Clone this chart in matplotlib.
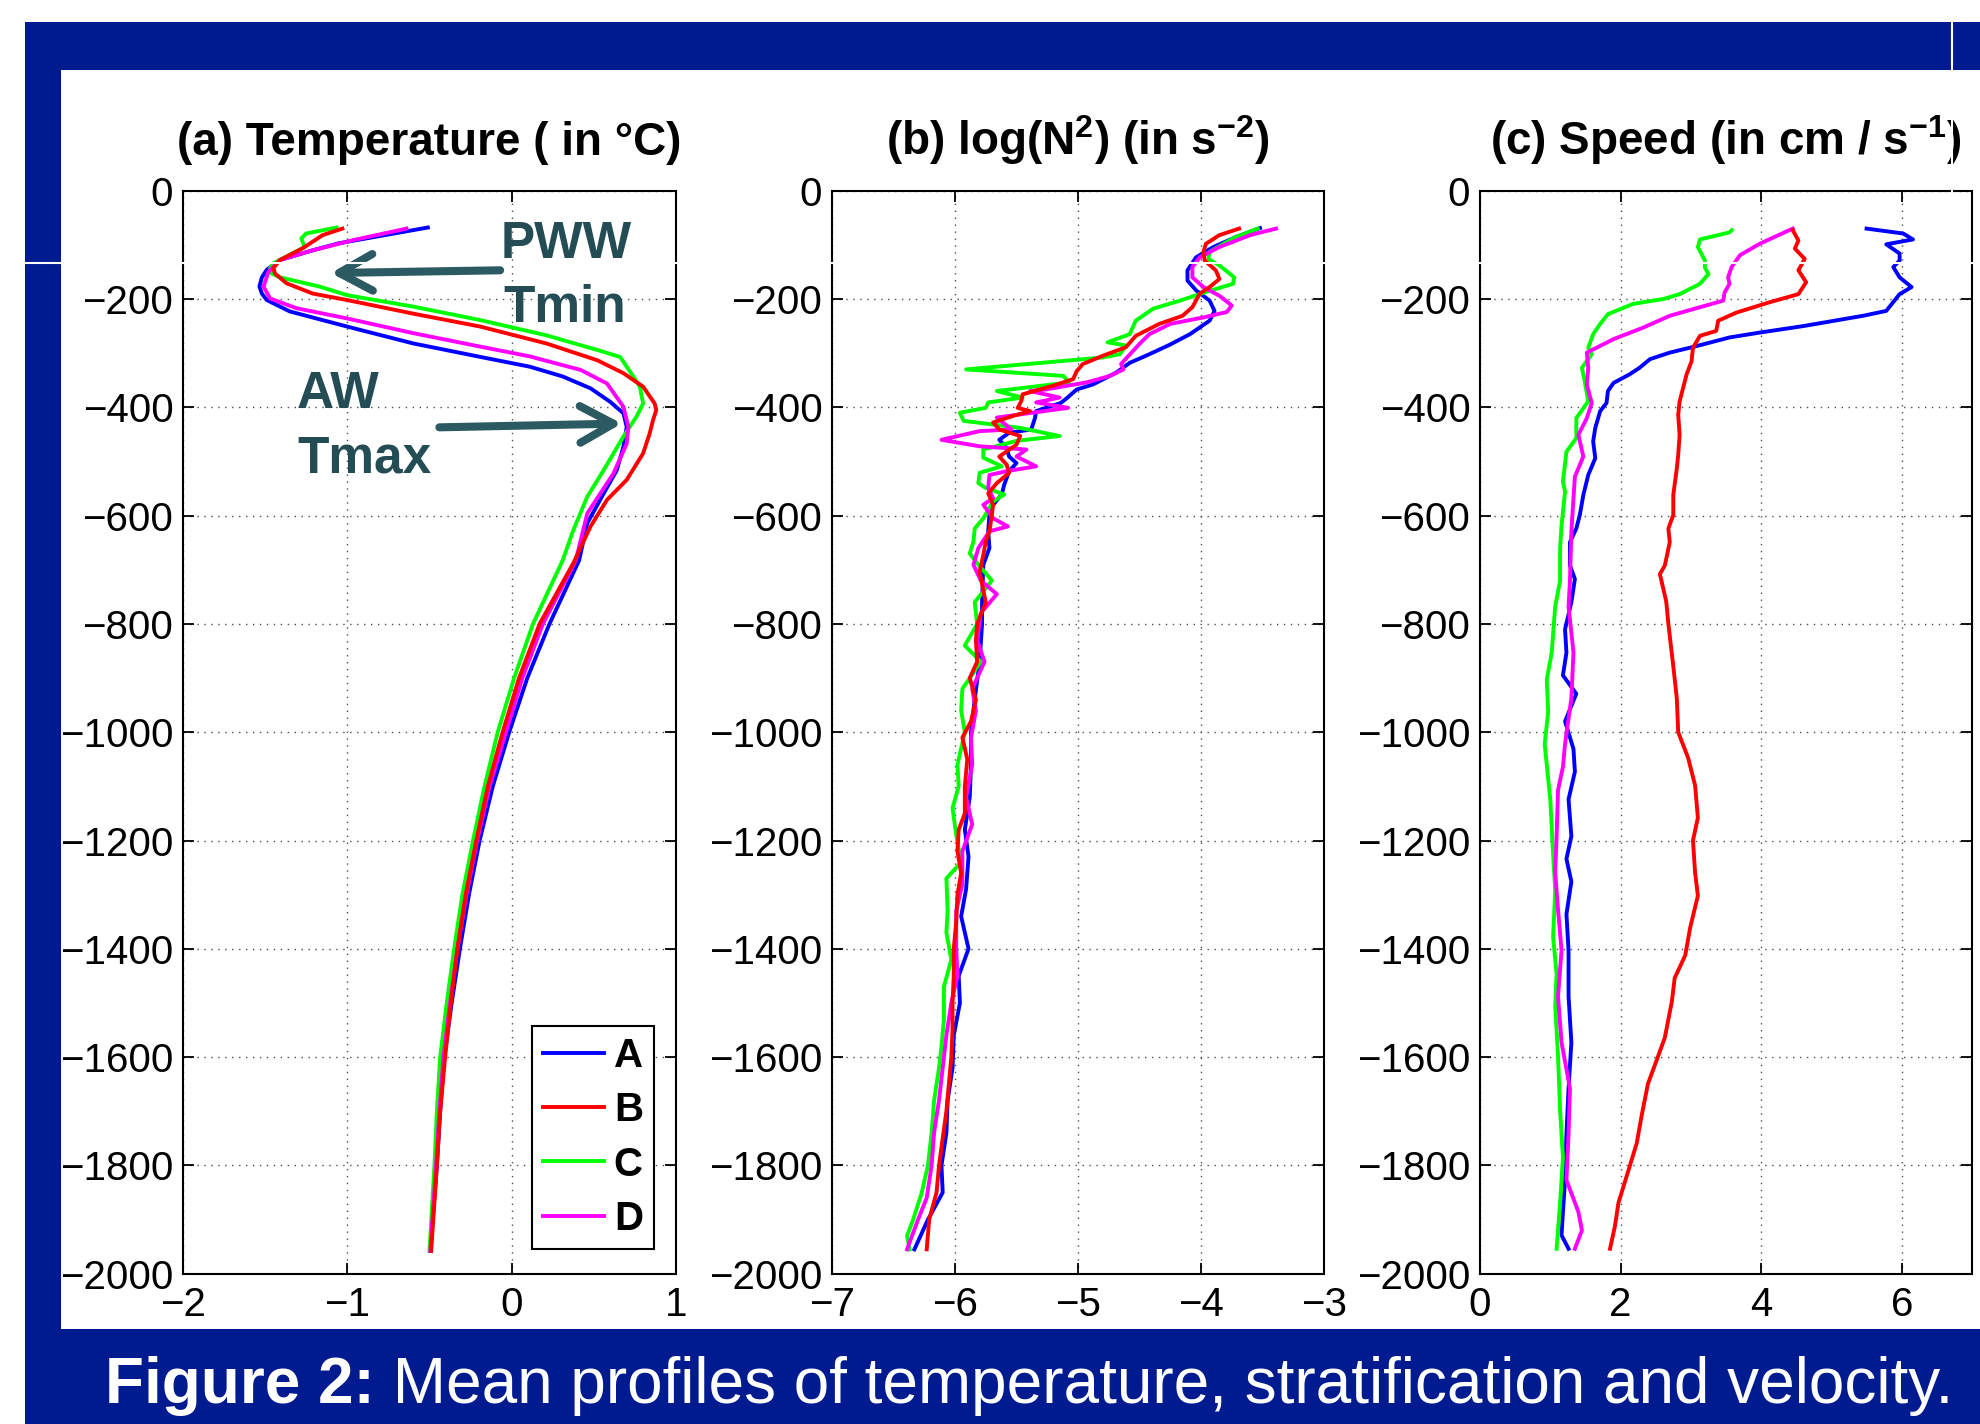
import numpy as np
import matplotlib
matplotlib.use("Agg")
import matplotlib.pyplot as plt
from matplotlib.patches import Rectangle

plt.rcParams['font.family'] = ['Liberation Sans', 'DejaVu Sans']
plt.rcParams['mathtext.fontset'] = 'custom'
plt.rcParams['mathtext.rm'] = 'Liberation Sans:bold'
plt.rcParams['mathtext.bf'] = 'Liberation Sans:bold'
plt.rcParams['mathtext.it'] = 'Liberation Sans:bold:italic'

# ---- data: [depth (m), value] ----
# (a) temperature, degC
temp_A = np.array([[-68, -0.51], [-97, -1.05], [-110, -1.21], [-128, -1.41], [-146, -1.49], [-160, -1.52],
                   [-177, -1.535], [-190, -1.52], [-202, -1.49], [-223, -1.35], [-251, -1.00], [-282, -0.60],
                   [-307, -0.19], [-325, 0.11], [-343, 0.31], [-365, 0.48], [-390, 0.60], [-411, 0.68],
                   [-436, 0.70], [-473, 0.68], [-516, 0.64], [-559, 0.56], [-614, 0.46], [-683, 0.41],
                   [-800, 0.23], [-900, 0.095], [-1000, -0.015], [-1100, -0.115], [-1200, -0.195], [-1300, -0.26],
                   [-1400, -0.315], [-1500, -0.365], [-1600, -0.41], [-1700, -0.435], [-1800, -0.455], [-1958, -0.495]])
temp_B = np.array([[-70, -1.03], [-82, -1.15], [-106, -1.27], [-128, -1.41], [-143, -1.45], [-153, -1.44],
                   [-171, -1.37], [-190, -1.21], [-202, -1.00], [-227, -0.60], [-251, -0.19], [-282, 0.21],
                   [-313, 0.52], [-337, 0.68], [-362, 0.80], [-393, 0.87], [-405, 0.88], [-424, 0.86],
                   [-448, 0.84], [-485, 0.80], [-534, 0.70], [-571, 0.58], [-620, 0.48], [-688, 0.375],
                   [-800, 0.17], [-900, 0.045], [-1000, -0.055], [-1100, -0.145], [-1200, -0.215], [-1300, -0.28],
                   [-1400, -0.33], [-1500, -0.37], [-1600, -0.405], [-1700, -0.435], [-1800, -0.455], [-1958, -0.49]])
temp_C = np.array([[-68, -1.065], [-79, -1.25], [-88, -1.28], [-104, -1.26], [-134, -1.45], [-143, -1.47],
                   [-153, -1.46], [-160, -1.41], [-177, -1.17], [-193, -1.00], [-214, -0.60], [-239, -0.19],
                   [-267, 0.21], [-294, 0.52], [-307, 0.66], [-325, 0.70], [-343, 0.74], [-362, 0.78],
                   [-393, 0.80], [-417, 0.76], [-454, 0.68], [-516, 0.56], [-565, 0.46], [-627, 0.375],
                   [-683, 0.31], [-800, 0.13], [-900, 0.015], [-1000, -0.085], [-1100, -0.165], [-1200, -0.235],
                   [-1300, -0.30], [-1400, -0.35], [-1500, -0.395], [-1600, -0.435], [-1700, -0.455],
                   [-1800, -0.47], [-1958, -0.50]])
temp_D = np.array([[-70, -0.64], [-91, -0.96], [-110, -1.21], [-128, -1.41], [-150, -1.48], [-177, -1.51],
                   [-199, -1.47], [-217, -1.31], [-236, -1.00], [-263, -0.60], [-288, -0.19], [-306, 0.11],
                   [-331, 0.42], [-356, 0.58], [-399, 0.68], [-436, 0.71], [-467, 0.70], [-522, 0.62],
                   [-596, 0.46], [-683, 0.39], [-800, 0.19], [-900, 0.065], [-1000, -0.035], [-1100, -0.135],
                   [-1200, -0.21], [-1300, -0.275], [-1400, -0.33], [-1500, -0.375], [-1600, -0.415],
                   [-1700, -0.44], [-1800, -0.46], [-1958, -0.495]])

# (b) log(N^2)
n2_A = np.array([[-69, -3.52], [-85, -3.71], [-104, -3.90], [-123, -4.04], [-147, -4.11], [-166, -4.11],
                 [-184, -4.04], [-203, -3.93], [-222, -3.89], [-240, -3.93], [-265, -4.09], [-284, -4.25],
                 [-302, -4.42], [-318, -4.58], [-336, -4.69], [-358, -4.88], [-367, -5.01], [-383, -5.09],
                 [-392, -5.14], [-407, -5.34], [-420, -5.35], [-441, -5.38], [-447, -5.56], [-460, -5.64],
                 [-475, -5.58], [-491, -5.56], [-503, -5.50], [-518, -5.56], [-543, -5.60], [-561, -5.62],
                 [-580, -5.69], [-598, -5.72], [-629, -5.73], [-660, -5.72], [-691, -5.77], [-760, -5.78],
                 [-800, -5.78], [-870, -5.80], [-940, -5.84], [-1000, -5.87], [-1060, -5.87], [-1120, -5.88],
                 [-1180, -5.92], [-1230, -5.89], [-1290, -5.91], [-1340, -5.95], [-1400, -5.89], [-1450, -5.97],
                 [-1500, -5.96], [-1560, -6.01], [-1620, -6.02], [-1680, -6.06], [-1740, -6.07], [-1800, -6.11],
                 [-1850, -6.10], [-1900, -6.22], [-1955, -6.33]])
n2_B = np.array([[-70, -3.69], [-82, -3.85], [-98, -3.96], [-113, -3.98], [-129, -3.97], [-147, -3.88],
                 [-163, -3.85], [-178, -3.93], [-190, -4.01], [-215, -4.07], [-231, -4.15], [-246, -4.34],
                 [-268, -4.53], [-289, -4.61], [-305, -4.80], [-320, -4.96], [-333, -5.01], [-348, -5.04],
                 [-360, -5.20], [-376, -5.45], [-388, -5.46], [-401, -5.49], [-407, -5.39], [-416, -5.53],
                 [-428, -5.69], [-441, -5.64], [-453, -5.47], [-469, -5.50], [-491, -5.64], [-506, -5.58],
                 [-521, -5.56], [-540, -5.66], [-559, -5.73], [-580, -5.69], [-598, -5.70], [-629, -5.72],
                 [-648, -5.75], [-673, -5.77], [-704, -5.80], [-760, -5.75], [-800, -5.82], [-830, -5.83],
                 [-870, -5.82], [-900, -5.88], [-940, -5.83], [-980, -5.87], [-1010, -5.94], [-1050, -5.90],
                 [-1100, -5.92], [-1150, -5.92], [-1180, -5.97], [-1220, -5.98], [-1260, -5.95], [-1300, -5.98],
                 [-1350, -5.99], [-1400, -6.01], [-1450, -6.01], [-1500, -6.02], [-1550, -6.02], [-1600, -6.03],
                 [-1650, -6.05], [-1700, -6.07], [-1750, -6.10], [-1800, -6.13], [-1850, -6.15], [-1900, -6.21],
                 [-1955, -6.23]])
n2_C = np.array([[-70, -3.54], [-88, -3.74], [-113, -3.93], [-126, -3.94], [-138, -3.85], [-160, -3.73],
                 [-172, -3.74], [-187, -3.96], [-203, -4.17], [-218, -4.39], [-240, -4.53], [-265, -4.58],
                 [-280, -4.76], [-286, -4.61], [-302, -4.66], [-308, -4.80], [-330, -5.91], [-342, -5.12],
                 [-354, -5.07], [-370, -5.66], [-382, -5.45], [-391, -5.73], [-401, -5.75], [-410, -5.96],
                 [-425, -5.93], [-438, -5.47], [-453, -5.15], [-462, -5.50], [-478, -5.77], [-493, -5.77],
                 [-509, -5.62], [-521, -5.80], [-540, -5.81], [-549, -5.75], [-561, -5.60], [-574, -5.69],
                 [-605, -5.77], [-624, -5.84], [-648, -5.85], [-670, -5.88], [-685, -5.83], [-720, -5.70],
                 [-760, -5.84], [-800, -5.82], [-840, -5.92], [-870, -5.79], [-920, -5.94], [-960, -5.95],
                 [-1000, -5.92], [-1060, -5.98], [-1100, -5.97], [-1140, -6.02], [-1190, -5.99], [-1240, -5.95],
                 [-1270, -6.07], [-1330, -6.06], [-1370, -6.07], [-1420, -6.03], [-1470, -6.09], [-1530, -6.09],
                 [-1580, -6.11], [-1620, -6.13], [-1680, -6.17], [-1740, -6.19], [-1800, -6.22], [-1850, -6.27],
                 [-1900, -6.34], [-1930, -6.39], [-1955, -6.37]])
n2_D = np.array([[-70, -3.39], [-82, -3.60], [-104, -3.85], [-123, -4.01], [-141, -4.07], [-160, -4.07],
                 [-178, -3.98], [-194, -3.85], [-212, -3.75], [-224, -3.79], [-234, -3.98], [-246, -4.25],
                 [-265, -4.42], [-283, -4.50], [-320, -4.65], [-330, -4.63], [-342, -4.74], [-354, -4.93],
                 [-367, -5.26], [-370, -5.39], [-382, -5.15], [-391, -5.34], [-401, -5.08], [-410, -5.37],
                 [-419, -5.66], [-441, -5.54], [-444, -5.80], [-460, -6.11], [-472, -5.80], [-478, -5.42],
                 [-491, -5.50], [-509, -5.34], [-518, -5.58], [-525, -5.72], [-549, -5.73], [-568, -5.69],
                 [-580, -5.77], [-605, -5.69], [-620, -5.57], [-629, -5.72], [-660, -5.81], [-691, -5.85],
                 [-720, -5.79], [-745, -5.66], [-780, -5.79], [-830, -5.82], [-870, -5.76], [-920, -5.86],
                 [-960, -5.83], [-1010, -5.87], [-1060, -5.86], [-1120, -5.91], [-1170, -5.86], [-1220, -5.94],
                 [-1280, -5.94], [-1330, -5.99], [-1400, -5.99], [-1450, -5.98], [-1500, -6.03], [-1560, -6.07],
                 [-1620, -6.10], [-1680, -6.13], [-1740, -6.17], [-1800, -6.19], [-1860, -6.23], [-1900, -6.30],
                 [-1955, -6.39]])

# (c) speed, cm/s
spd_A = np.array([[-70, 5.50], [-79, 6.02], [-90, 6.16], [-99, 5.78], [-116, 5.97], [-129, 5.97], [-141, 5.88],
                  [-160, 5.97], [-178, 6.14], [-191, 5.97], [-222, 5.78], [-231, 5.45], [-250, 4.60],
                  [-262, 3.98], [-271, 3.55], [-287, 3.08], [-299, 2.70], [-311, 2.42], [-327, 2.27],
                  [-339, 2.13], [-355, 1.90], [-370, 1.82], [-392, 1.80], [-407, 1.71], [-438, 1.64],
                  [-463, 1.61], [-494, 1.64], [-525, 1.54], [-562, 1.47], [-599, 1.42], [-624, 1.37],
                  [-649, 1.28], [-692, 1.28], [-717, 1.35], [-760, 1.30], [-810, 1.21], [-853, 1.23],
                  [-895, 1.18], [-929, 1.37], [-980, 1.21], [-1031, 1.33], [-1073, 1.35], [-1124, 1.26],
                  [-1192, 1.30], [-1234, 1.23], [-1276, 1.30], [-1336, 1.23], [-1403, 1.26], [-1488, 1.26],
                  [-1573, 1.30], [-1658, 1.26], [-1742, 1.23], [-1827, 1.21], [-1886, 1.18], [-1929, 1.16],
                  [-1954, 1.26]])
spd_B = np.array([[-73, 4.45], [-92, 4.53], [-107, 4.48], [-126, 4.62], [-147, 4.53], [-169, 4.64],
                  [-191, 4.53], [-206, 4.12], [-225, 3.65], [-240, 3.39], [-259, 3.36], [-268, 3.13],
                  [-290, 3.03], [-315, 3.01], [-339, 2.94], [-364, 2.89], [-389, 2.84], [-414, 2.82],
                  [-451, 2.84], [-488, 2.82], [-513, 2.80], [-562, 2.75], [-599, 2.75], [-624, 2.68],
                  [-649, 2.70], [-692, 2.63], [-708, 2.56], [-759, 2.65], [-800, 2.68], [-878, 2.75],
                  [-937, 2.80], [-1000, 2.82], [-1047, 2.96], [-1098, 3.06], [-1158, 3.10], [-1200, 3.03],
                  [-1259, 3.06], [-1302, 3.10], [-1361, 2.99], [-1412, 2.92], [-1454, 2.77], [-1497, 2.73],
                  [-1564, 2.63], [-1607, 2.51], [-1649, 2.39], [-1708, 2.30], [-1759, 2.23], [-1810, 2.11],
                  [-1869, 1.97], [-1912, 1.92], [-1954, 1.85]])
spd_C = np.array([[-73, 3.58], [-77, 3.55], [-90, 3.13], [-104, 3.10], [-129, 3.20], [-142, 3.20],
                  [-154, 3.25], [-172, 3.13], [-191, 2.84], [-200, 2.61], [-209, 2.18], [-228, 1.82],
                  [-246, 1.71], [-265, 1.61], [-290, 1.54], [-302, 1.59], [-327, 1.45], [-352, 1.49],
                  [-389, 1.54], [-420, 1.37], [-457, 1.37], [-482, 1.23], [-537, 1.18], [-556, 1.21],
                  [-618, 1.16], [-661, 1.14], [-720, 1.14], [-768, 1.07], [-853, 1.02], [-903, 0.95],
                  [-963, 0.97], [-1022, 0.92], [-1124, 1.00], [-1225, 1.04], [-1293, 1.07], [-1378, 1.04],
                  [-1446, 1.09], [-1505, 1.07], [-1598, 1.11], [-1700, 1.14], [-1785, 1.18], [-1869, 1.14],
                  [-1954, 1.09]])
spd_D = np.array([[-70, 4.45], [-98, 3.98], [-119, 3.70], [-141, 3.58], [-160, 3.53], [-172, 3.55],
                  [-188, 3.48], [-203, 3.46], [-231, 2.70], [-253, 2.32], [-274, 1.90], [-284, 1.75],
                  [-299, 1.52], [-327, 1.54], [-358, 1.52], [-392, 1.59], [-420, 1.52], [-451, 1.40],
                  [-491, 1.47], [-528, 1.35], [-568, 1.33], [-630, 1.30], [-720, 1.28], [-768, 1.26],
                  [-853, 1.33], [-937, 1.30], [-1022, 1.21], [-1064, 1.18], [-1107, 1.11], [-1192, 1.09],
                  [-1259, 1.07], [-1327, 1.11], [-1403, 1.16], [-1488, 1.11], [-1573, 1.16], [-1658, 1.28],
                  [-1742, 1.26], [-1827, 1.23], [-1886, 1.40], [-1920, 1.45], [-1954, 1.35]])

station_names = ["A", "B", "C", "D"]
station_colors = {"A": "#0000ff", "B": "#ff0000", "C": "#00ff00", "D": "#ff00ff"}
draw_order = ["A", "C", "D", "B"]  # red ends up on top

panels = [
    ("(a) Temperature ( in °C)", {"A": temp_A, "B": temp_B, "C": temp_C, "D": temp_D}, (-2, 1), [-2, -1, 0, 1]),
    ("(b) log(N$^{2}$) (in s$^{-2}$)", {"A": n2_A, "B": n2_B, "C": n2_C, "D": n2_D}, (-7, -3), [-7, -6, -5, -4, -3]),
    ("(c) Speed (in cm / s$^{-1}$)", {"A": spd_A, "B": spd_B, "C": spd_C, "D": spd_D}, (0, 7), [0, 2, 4, 6]),
]

W, H = 1981, 1424
SLIDE_BLUE = "#001a8f"
NOTE_TEXT = "#234c55"
NOTE_ARROW = "#2c5a62"

fig = plt.figure(figsize=(W / 100, H / 100), dpi=100)

# slide background (pixel coordinates, y down)
bg = fig.add_axes([0, 0, 1, 1], zorder=-1)
bg.set_xlim(0, W)
bg.set_ylim(H, 0)
bg.axis("off")
bg.add_patch(Rectangle((25, 22), W - 25, 48, color=SLIDE_BLUE, lw=0))
bg.add_patch(Rectangle((25, 22), 36, H - 22, color=SLIDE_BLUE, lw=0))
bg.add_patch(Rectangle((25, 1329), W - 25, H - 1329, color=SLIDE_BLUE, lw=0))

# axes boxes in pixels: left, right ; top/bottom shared
ax_px = [(183, 676), (832, 1324), (1480, 1972)]
top_px, bot_px = 190.7, 1273.7

axes = []
for (title, series, xlim, xticks), (x0, x1) in zip(panels, ax_px):
    ax = fig.add_axes([x0 / W, 1 - bot_px / H, (x1 - x0) / W, (bot_px - top_px) / H])
    handles = {}
    for name in draw_order:
        d = series[name]
        handles[name], = ax.plot(d[:, 1], d[:, 0], color=station_colors[name], lw=2.8, label=name)
    ax.set_xlim(*xlim)
    ax.set_ylim(-2000, 0)
    ax.set_xticks(xticks)
    ax.set_yticks(np.arange(-2000, 1, 200))
    ax.set_axisbelow(True)
    ax.grid(True, color="0.3", linestyle=(0, (1, 4)), linewidth=1.0)
    ax.tick_params(direction="in", length=8, width=1.3, top=True, right=True, labelsize=29)
    ax.tick_params(axis="y", pad=7)
    ax.tick_params(axis="x", pad=9)
    for s in ax.spines.values():
        s.set_linewidth(1.5)
    ax.set_title(title, fontsize=33, fontweight="bold", pad=26)
    axes.append((ax, handles))

ax_a, h_a = axes[0]

# water mass annotations
ax_a.text(-0.07, -124, "PWW", fontsize=37, fontweight="bold", color=NOTE_TEXT, va="baseline")
ax_a.text(-0.05, -243, "Tmin", fontsize=37, fontweight="bold", color=NOTE_TEXT, va="baseline")
ax_a.text(-1.306, -401, "AW", fontsize=37, fontweight="bold", color=NOTE_TEXT, va="baseline")
ax_a.text(-1.306, -521, "Tmax", fontsize=37, fontweight="bold", color=NOTE_TEXT, va="baseline")
arrow_kw = dict(arrowstyle="->,head_length=1.0,head_width=0.55", lw=5.8, color=NOTE_ARROW,
                shrinkA=0, shrinkB=0, mutation_scale=24, capstyle="round", joinstyle="round")
ax_a.annotate("", xy=(-1.10, -152), xytext=(-0.07, -147), arrowprops=arrow_kw)
ax_a.annotate("", xy=(0.67, -430), xytext=(-0.44, -437), arrowprops=arrow_kw)

leg = ax_a.legend([h_a[n] for n in station_names], station_names, loc="upper left",
                  bbox_to_anchor=(532 / W, 1 - 1026 / H), bbox_transform=fig.transFigure,
                  borderaxespad=0, fancybox=False, edgecolor="k", framealpha=1,
                  prop={"weight": "bold", "size": 29}, handlelength=1.5, handletextpad=0.25,
                  borderpad=0.28, labelspacing=0.40)
leg.get_frame().set_linewidth(1.5)

# caption
cap = bg.text(105, 1403, "Figure 2:", color="white", fontsize=46, fontweight="bold", va="baseline")
bg.annotate(" Mean profiles of temperature, stratification and velocity.", xy=(1, 0), xycoords=cap,
            color="white", fontsize=46, va="bottom", ha="left")

# thin white seams from the slide scan
over = fig.add_axes([0, 0, 1, 1], zorder=10)
over.set_xlim(0, W)
over.set_ylim(H, 0)
over.axis("off")
over.axhline(263, color="white", lw=1.5)
over.plot([1952, 1952], [22, 200], color="white", lw=1.5)

fig.savefig("out.png", dpi=100)
